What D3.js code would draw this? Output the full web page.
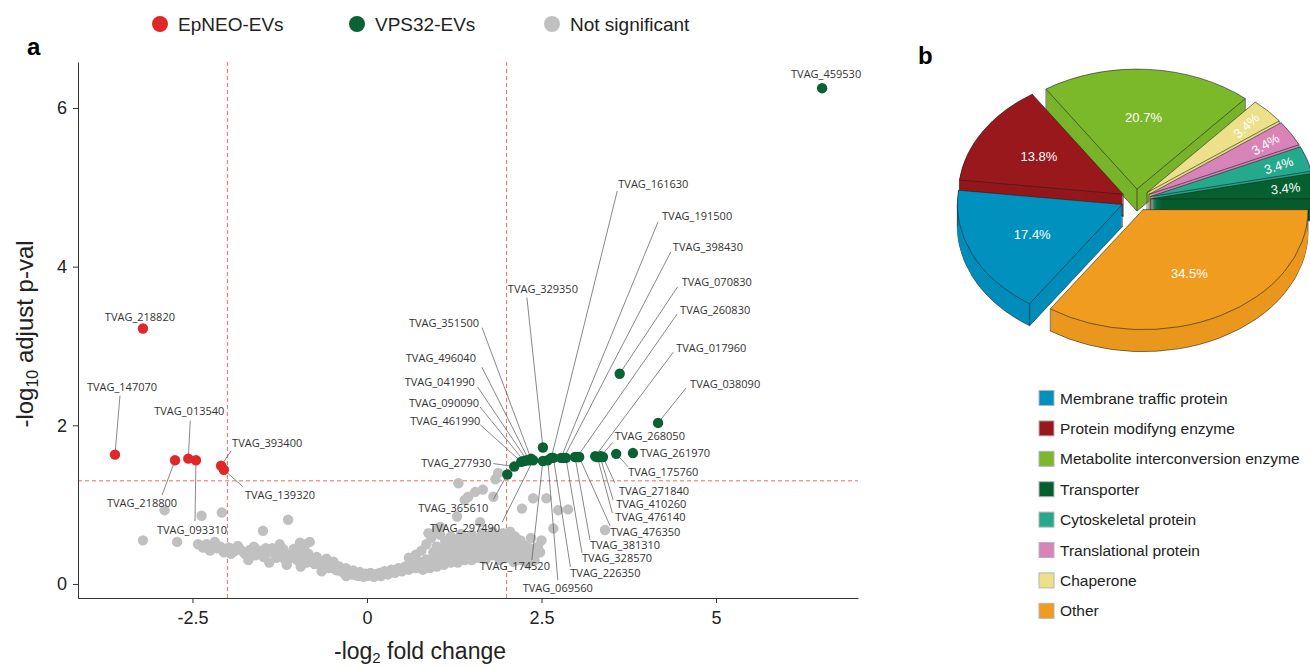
<!DOCTYPE html>
<html>
<head>
<meta charset="utf-8">
<script src="https://cdn.jsdelivr.net/npm/d3@7"></script>
<style>
    body { margin: 0; background: #fff; }
    svg { display: block; font-family: "Liberation Sans", Arial, sans-serif; }
    .tvag { font-family: "Open Sans", sans-serif; font-size: 11px; fill: #333; }
</style>
</head>
<body>
<svg id="fig" width="1310" height="668"></svg>
<script>
// ---- volcano data ----
const xTicks = [-2.5, 0, 2.5, 5];
const yTicks = [0, 2, 4, 6];
const fcCutoff = 2;
const pCutoff = 1.3;

const legendNames = ['EpNEO-EVs', 'VPS32-EVs', 'Not significant'];

const epneoGenes = ['TVAG_218820','TVAG_147070','TVAG_218800','TVAG_013540','TVAG_093310','TVAG_393400','TVAG_139320'];
const epneoFC = [-3.21, -3.61, -2.75, -2.56, -2.45, -2.09, -2.05];
const epneoP  = [3.22, 1.63, 1.56, 1.58, 1.56, 1.49, 1.44];

const vpsGenes = ['TVAG_459530','TVAG_070830','TVAG_038090','TVAG_329350','TVAG_365610','TVAG_277930','TVAG_461990',
    'TVAG_090090','TVAG_041990','TVAG_496040','TVAG_351500','TVAG_297490','TVAG_174520','TVAG_069560','TVAG_161630',
    'TVAG_226350','TVAG_191500','TVAG_398430','TVAG_328570','TVAG_381310','TVAG_260830','TVAG_476350','TVAG_017960',
    'TVAG_476140','TVAG_410260','TVAG_268050','TVAG_271840','TVAG_175760','TVAG_261970'];
const vpsFC = [6.52, 3.62, 4.17, 2.52, 2.01, 2.11, 2.21, 2.25, 2.29, 2.32, 2.35, 2.38, 2.52, 2.59, 2.64,
    2.67, 2.78, 2.82, 2.85, 2.98, 3.01, 3.04, 3.27, 3.30, 3.34, 3.35, 3.38, 3.57, 3.81];
const vpsP = [6.25, 2.65, 2.03, 1.72, 1.38, 1.48, 1.54, 1.55, 1.56, 1.56, 1.58, 1.56, 1.55, 1.56, 1.59,
    1.59, 1.59, 1.59, 1.59, 1.60, 1.60, 1.60, 1.61, 1.60, 1.60, 1.61, 1.60, 1.64, 1.65];

// not significant proteins [fold change, -log10 p]
const nsPoints = [
    [-3.21,0.55],[-2.9,0.93],[-2.72,0.53],[-2.37,0.86],[-2.08,0.9],[-2.18,0.53],[-2.3,0.5],[-2.42,0.5],
    [-1.49,0.67],[-1.13,0.81],[-0.96,0.52],[-0.82,0.53],
    [-2.25,0.42],[-2.15,0.45],[-2.05,0.4],[-1.98,0.46],[-1.9,0.41],[-1.82,0.44],[-1.75,0.38],[-1.68,0.43],
    [-1.6,0.36],[-1.55,0.42],[-1.48,0.34],[-1.42,0.4],[-1.36,0.45],[-1.3,0.33],[-1.25,0.39],[-1.18,0.31],
    [-1.12,0.37],[-1.05,0.44],[-1.0,0.3],[-0.94,0.36],[-0.9,0.42],[-0.86,0.27],[-0.8,0.33],[-0.75,0.25],
    [-0.7,0.3],[-0.64,0.23],[-0.6,0.28],[-0.55,0.2],[-0.5,0.25],[-0.45,0.18],[-0.4,0.22],[-0.35,0.15],
    [-0.3,0.2],[-0.25,0.13],[-0.2,0.17],[-0.15,0.11],[-0.1,0.15],[-0.05,0.09],[-1.7,0.3],[-1.4,0.27],
    [-1.15,0.24],[-0.95,0.22],[-0.65,0.16],[-0.3,0.1],
    [-2.35,0.46],[-2.2,0.5],[-2.1,0.47],[-1.95,0.38],[-1.85,0.48],[-1.78,0.41],[-1.62,0.47],[-1.52,0.37],
    [-1.45,0.45],[-1.33,0.4],[-1.2,0.44],[-1.08,0.33],[-1.02,0.4],[-0.92,0.3],[-0.84,0.38],[-0.78,0.28],
    [-0.72,0.34],[-0.62,0.25],[-0.52,0.21],[-0.42,0.17],[-0.33,0.14],[-0.22,0.12],[-0.12,0.1],[-0.02,0.13],
    [-0.58,0.32],[-0.48,0.28],[-1.25,0.5],[-0.98,0.47],[-0.88,0.5],
    [0,0.1],[0.05,0.14],[0.1,0.09],[0.15,0.13],[0.2,0.1],[0.25,0.16],[0.3,0.12],[0.35,0.18],[0.4,0.14],
    [0.45,0.2],[0.5,0.16],[0.55,0.22],[0.6,0.18],[0.65,0.25],[0.7,0.2],[0.75,0.28],[0.8,0.23],[0.85,0.31],
    [0.9,0.25],[0.95,0.34],[1.0,0.28],[1.05,0.37],[1.1,0.3],[1.15,0.4],[1.2,0.32],[1.25,0.43],[1.3,0.35],
    [1.35,0.45],[1.4,0.37],[1.45,0.47],[1.5,0.38],[1.55,0.49],[1.6,0.4],[1.65,0.5],[1.7,0.41],[1.75,0.52],
    [1.8,0.42],[1.85,0.5],[1.9,0.4],[1.95,0.48],[2.0,0.38],[2.05,0.47],[2.1,0.36],[2.15,0.45],[2.2,0.35],
    [2.28,0.42],[2.35,0.33],[2.42,0.38],
    [0.08,0.11],[0.18,0.14],[0.28,0.15],[0.38,0.17],[0.48,0.19],[0.58,0.2],[0.68,0.23],[0.78,0.26],
    [0.88,0.28],[0.98,0.31],[1.08,0.34],[1.18,0.37],[1.28,0.4],[1.38,0.42],[1.48,0.44],[1.58,0.46],
    [1.68,0.47],[1.78,0.47],[1.88,0.45],[1.98,0.43],[2.08,0.41],[2.18,0.4],[2.26,0.38],[2.33,0.45],
    [2.4,0.42],[2.48,0.4],[0.95,0.4],[1.05,0.44],[1.15,0.47],[1.25,0.5],[1.35,0.52],[1.45,0.54],
    [1.55,0.55],[1.65,0.56],[1.75,0.57],[1.85,0.55],[1.95,0.53],[2.05,0.52],[2.15,0.5],[2.25,0.49],
    [1.2,0.27],[1.4,0.3],[1.6,0.33],[1.8,0.36],[2.0,0.33],[2.2,0.3],[2.4,0.3],[0.9,0.2],[1.0,0.22],[0.8,0.18],
    [0.78,0.42],[0.85,0.5],[0.92,0.58],[1.0,0.47],[1.05,0.62],[1.12,0.54],[1.2,0.6],[1.28,0.56],[1.35,0.63],
    [1.42,0.58],[1.5,0.62],[1.58,0.57],[1.65,0.64],[1.72,0.6],[1.8,0.66],[1.88,0.6],[1.95,0.64],[2.02,0.58],
    [2.12,0.6],[2.2,0.55],[0.6,0.33],[0.7,0.37],[1.1,0.24],[1.3,0.27],[1.5,0.3],[1.7,0.31],[1.9,0.3],
    [2.1,0.28],[2.3,0.26],[2.5,0.55],[2.35,0.58],[0.88,0.64],[1.0,0.68],
    [1.31,1.27],[1.45,1.1],[1.55,1.16],[1.66,1.19],[1.81,1.1],[1.88,1.4],[1.84,1.32],[1.4,1.06],[1.29,0.85],
    [2.22,0.95],[2.38,1.08],[2.57,1.08],[2.74,0.93],[2.88,0.94],[2.67,0.7],[2.45,0.47],[2.05,0.66],[3.41,0.68],
    [1.62,0.78],[1.05,0.72]
];

// ---- pie data ----
const pieCategories = ['Membrane traffic protein','Protein modifyng enzyme','Metabolite interconversion enzyme',
    'Transporter','Cytoskeletal protein','Translational protein','Chaperone','Other'];
const piePercent = [17.4, 13.8, 20.7, 3.4, 3.4, 3.4, 3.4, 34.5];
const pieColors = ['#0091bf','#98181c','#7bb82a','#04602f','#24a98c','#d884b9','#ede08b','#f09c1f'];
// order of slices around the pie, clockwise from 3 o'clock
const sliceOrder = ['Other','Membrane traffic protein','Protein modifyng enzyme','Metabolite interconversion enzyme',
    'Chaperone','Translational protein','Cytoskeletal protein','Transporter'];

// label placement, px offset from the point: [dx, dy, anchor, leader dx, leader dy]
const labelLayout = {
    'TVAG_218820': [-3,-11,'middle',null,null],
    'TVAG_147070': [7,-68,'middle',5,-59],
    'TVAG_218800': [-33,43,'middle',-13,35],
    'TVAG_013540': [1,-47,'middle',2,-38],
    'TVAG_093310': [-4,70,'middle',-1,61],
    'TVAG_393400': [11,-23,'start',10,-15],
    'TVAG_139320': [21,25,'start',19,17],
    'TVAG_459530': [4,-14,'middle',null,null],
    'TVAG_070830': [62,-92,'start',58,-87],
    'TVAG_038090': [32,-39,'start',28,-35],
    'TVAG_329350': [0,-158,'middle',-16,-150],
    'TVAG_365610': [-19,34,'end',-14,25],
    'TVAG_277930': [-23,-3,'end',-21,-3],
    'TVAG_461990': [-41,-41,'end',-41,-37],
    'TVAG_090090': [-45,-58,'end',-44,-54],
    'TVAG_041990': [-52,-78,'end',-49,-73],
    'TVAG_496040': [-53,-102,'end',-47,-93],
    'TVAG_351500': [-52,-135,'end',-49,-131],
    'TVAG_297490': [-33,68,'end',-31,62],
    'TVAG_174520': [-28,105,'middle',-11,99],
    'TVAG_069560': [10,128,'middle',10,120],
    'TVAG_161630': [67,-274,'start',66,-267],
    'TVAG_226350': [52,115,'middle',17,109],
    'TVAG_191500': [101,-242,'start',97,-236],
    'TVAG_398430': [109,-211,'start',107,-206],
    'TVAG_328570': [16,100,'start',16,95],
    'TVAG_381310': [15,88,'start',15,83],
    'TVAG_260830': [103,-147,'start',100,-143],
    'TVAG_476350': [31,75,'start',31,69],
    'TVAG_017960': [81,-108,'start',78,-104],
    'TVAG_476140': [18,60,'start',15,56],
    'TVAG_410260': [16,47,'start',13,43],
    'TVAG_268050': [14,-20,'start',12,-14],
    'TVAG_271840': [16,34,'start',12,26],
    'TVAG_175760': [12,18,'start',12,13],
    'TVAG_261970': [7,0,'start',null,null]
};

const svg = d3.select('#fig');

// ================= panel a : volcano =================
const margin = {left: 78, top: 62, right: 452, bottom: 70};
const width = 1310 - margin.left - margin.right;
const height = 668 - margin.top - margin.bottom;

const xscale = d3.scaleLinear().domain([-4.14, 7.034]).range([margin.left, margin.left + width]);
const yscale = d3.scaleLinear().domain([-0.177, 6.58]).range([margin.top + height, margin.top]);

// threshold lines
const dashColor = '#ee6b5c';
[-fcCutoff, fcCutoff].forEach(v => {
    svg.append('line')
        .attr('x1', xscale(v)).attr('x2', xscale(v))
        .attr('y1', margin.top).attr('y2', margin.top + height)
        .attr('stroke', dashColor).attr('stroke-width', 1).attr('stroke-dasharray', '4,3');
});
svg.append('line')
    .attr('x1', margin.left).attr('x2', margin.left + width)
    .attr('y1', yscale(pCutoff)).attr('y2', yscale(pCutoff))
    .attr('stroke', dashColor).attr('stroke-width', 1).attr('stroke-dasharray', '4,3');

// axes
const xaxis = svg.append('g')
    .attr('transform', `translate(0, ${margin.top + height})`)
    .call(d3.axisBottom(xscale).tickValues(xTicks).tickSize(5).tickSizeOuter(0).tickPadding(8).tickFormat(d => String(d)));
const yaxis = svg.append('g')
    .attr('transform', `translate(${margin.left}, 0)`)
    .call(d3.axisLeft(yscale).tickValues(yTicks).tickSize(5).tickSizeOuter(0).tickPadding(6).tickFormat(d => String(d)));
[xaxis, yaxis].forEach(g => {
    g.selectAll('path, line').attr('stroke', '#333');
    g.selectAll('text').attr('font-size', '18px').attr('fill', '#222').attr('font-family', '"Liberation Sans", Arial, sans-serif');
});

// axis titles
const xl = svg.append('text').attr('x', 420).attr('y', 659).attr('text-anchor', 'middle')
    .attr('font-size', '23px').attr('fill', '#222');
xl.append('tspan').text('-log');
xl.append('tspan').attr('font-size', '15px').attr('dy', 4).text('2');
xl.append('tspan').attr('dy', -4).text(' fold change');

const yl = svg.append('text').attr('transform', 'translate(33, 334) rotate(-90)').attr('text-anchor', 'middle')
    .attr('font-size', '24px').attr('fill', '#222');
yl.append('tspan').text('-log');
yl.append('tspan').attr('font-size', '16px').attr('dy', 5).text('10');
yl.append('tspan').attr('dy', -5).text(' adjust p-val');

// points
const nsColor = '#c0c0c0', epColor = '#e0272a', vpsColor = '#0a6133';
svg.append('g').selectAll('circle').data(nsPoints).join('circle')
    .attr('cx', d => xscale(d[0])).attr('cy', d => yscale(d[1])).attr('r', 5.2).attr('fill', nsColor);

const epneo = epneoGenes.map((g, i) => ({gene: g, fc: epneoFC[i], p: epneoP[i]}));
const vps = vpsGenes.map((g, i) => ({gene: g, fc: vpsFC[i], p: vpsP[i]}));
const sig = epneo.concat(vps);

// leaders under the dots
svg.append('g').selectAll('line').data(sig.filter(d => labelLayout[d.gene][3] !== null)).join('line')
    .attr('x1', d => xscale(d.fc) + labelLayout[d.gene][3])
    .attr('y1', d => yscale(d.p) + labelLayout[d.gene][4])
    .attr('x2', d => xscale(d.fc)).attr('y2', d => yscale(d.p))
    .attr('stroke', '#555').attr('stroke-width', 0.7);

svg.append('g').selectAll('circle').data(epneo).join('circle')
    .attr('cx', d => xscale(d.fc)).attr('cy', d => yscale(d.p)).attr('r', 5.2).attr('fill', epColor);
svg.append('g').selectAll('circle').data(vps).join('circle')
    .attr('cx', d => xscale(d.fc)).attr('cy', d => yscale(d.p)).attr('r', 5.2).attr('fill', vpsColor);

svg.append('g').selectAll('text').data(sig).join('text')
    .attr('class', 'tvag')
    .attr('x', d => xscale(d.fc) + labelLayout[d.gene][0])
    .attr('y', d => yscale(d.p) + labelLayout[d.gene][1])
    .attr('dy', '0.35em')
    .attr('text-anchor', d => labelLayout[d.gene][2])
    .text(d => d.gene);

// top legend
const legColors = [epColor, vpsColor, nsColor];
const legX = [160, 357, 552];
legendNames.forEach((name, i) => {
    svg.append('circle').attr('cx', legX[i]).attr('cy', 24).attr('r', 8).attr('fill', legColors[i]);
    svg.append('text').attr('x', legX[i] + 18).attr('y', 31).attr('font-size', '19px').attr('fill', '#222').text(name);
});

svg.append('text').attr('x', 27).attr('y', 55).attr('font-size', '24px').attr('font-weight', 'bold').text('a');
svg.append('text').attr('x', 918).attr('y', 64).attr('font-size', '24px').attr('font-weight', 'bold').text('b');

// ================= panel b : 3D pie =================
const pie = {cx: 1136, cy: 200, rx: 165, k: 120 / 165, depth: 22, explode: 15};
const colorOf = name => pieColors[pieCategories.indexOf(name)];
const valueOf = name => piePercent[pieCategories.indexOf(name)];

const arcs = d3.pie().sort(null).value(d => valueOf(d))
    .startAngle(Math.PI / 2).endAngle(Math.PI / 2 + 2 * Math.PI)(sliceOrder);
const arcGen = d3.arc().innerRadius(0).outerRadius(pie.rx);

arcs.forEach(a => {
    a.m = (a.startAngle + a.endAngle) / 2;
    a.ox = pie.cx + Math.sin(a.m) * pie.explode;
    a.oy = pie.cy - Math.cos(a.m) * pie.explode * pie.k;
});
// back slices first
const drawOrder = arcs.slice().sort((p, q) => -Math.cos(p.m) + Math.cos(q.m));
const pieG = svg.append('g');
const pt = (a, ang) => [a.ox + Math.sin(ang) * pie.rx, a.oy - Math.cos(ang) * pie.rx * pie.k];

drawOrder.forEach(a => {
    const g = pieG.append('g');
    const col = colorOf(a.data);
    const side = d3.color(col).darker(0.08).formatHex();
    for (let dz = pie.depth; dz >= 1; dz--) {
        g.append('path')
            .attr('d', arcGen(a))
            .attr('transform', `translate(${a.ox}, ${a.oy + dz}) scale(1, ${pie.k})`)
            .attr('fill', side)
            .attr('stroke', dz === pie.depth ? '#222' : 'none')
            .attr('stroke-width', 0.6)
            .attr('vector-effect', 'non-scaling-stroke');
    }
    // vertical edges
    const verts = [[a.ox, a.oy], pt(a, a.startAngle), pt(a, a.endAngle)];
    [Math.PI / 2, 3 * Math.PI / 2, 5 * Math.PI / 2].forEach(e => {
        if (e > a.startAngle && e < a.endAngle) verts.push(pt(a, e));
    });
    verts.forEach(v => {
        g.append('line').attr('x1', v[0]).attr('x2', v[0]).attr('y1', v[1]).attr('y2', v[1] + pie.depth)
            .attr('stroke', '#222').attr('stroke-width', 0.6);
    });
    g.append('path')
        .attr('d', arcGen(a))
        .attr('transform', `translate(${a.ox}, ${a.oy}) scale(1, ${pie.k})`)
        .attr('fill', col)
        .attr('stroke', '#222')
        .attr('stroke-width', 0.6)
        .attr('vector-effect', 'non-scaling-stroke');
});

// percentage labels
arcs.forEach(a => {
    const small = valueOf(a.data) < 5;
    const f = small ? 0.82 : 0.6;
    const lx = a.ox + Math.sin(a.m) * pie.rx * f;
    const ly = a.oy - Math.cos(a.m) * pie.rx * pie.k * f;
    const rot = small ? a.m * 180 / Math.PI - 90 : 0;
    pieG.append('text')
        .attr('transform', `translate(${lx}, ${ly}) rotate(${rot})`)
        .attr('text-anchor', 'middle').attr('dy', '0.35em')
        .attr('font-size', '13px').attr('fill', '#fff')
        .text(valueOf(a.data).toFixed(1) + '%');
});

// pie legend
const legG = svg.append('g');
pieCategories.forEach((name, i) => {
    const yy = 398 + i * 30.4;
    legG.append('rect').attr('x', 1039).attr('y', yy - 7.5).attr('width', 15).attr('height', 15)
        .attr('fill', pieColors[i]).attr('stroke', '#b5b5b5').attr('stroke-width', 1);
    legG.append('text').attr('x', 1060).attr('y', yy + 5.5).attr('font-size', '15.5px').attr('fill', '#222').text(name);
});
</script>
</body>
</html>
